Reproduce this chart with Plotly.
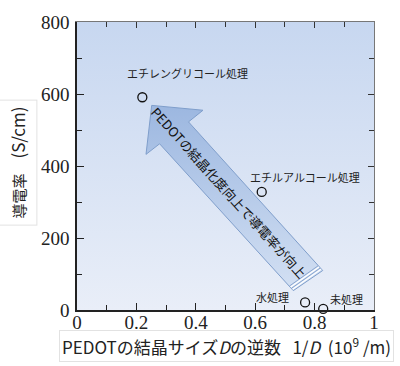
import plotly.graph_objects as go

# ---- data ----
treatments = ["エチレングリコール処理", "エチルアルコール処理", "水処理", "未処理"]
inv_size = [0.22, 0.622, 0.768, 0.829]          # 1/D (10^9 /m)
conductivity = [591, 328, 21, 3]                # S/cm
label_shift_x = [45, 43, -33, 23]
label_shift_y = [24, 15, 5, 10]
x_ticks = [0, 0.2, 0.4, 0.6, 0.8, 1]
y_ticks = [0, 200, 400, 600, 800]

W, H = 400, 366
ML, MR, MT, MB = 77, 26, 13, 56
PW, PH = W - ML - MR, H - MT - MB
XR, YR = [0, 1], [0, 800]


def px2d(px, py):
    x = XR[0] + (px - ML) / PW * (XR[1] - XR[0])
    y = YR[0] + (MT + PH - py) / PH * (YR[1] - YR[0])
    return x, y


# decorative arrow, defined in pixel space of the picture
arrow_px = [(151.7, 99), (203, 104), (188.5, 116), (322.7, 269.3),
            (293.3, 290), (159.6, 138.6), (146, 149.5), (151.7, 99)]
ax_pts = [px2d(*p) for p in arrow_px]

fig = go.Figure()

# plot background gradient
fig.add_trace(go.Scatter(
    x=[XR[0], XR[1], XR[1], XR[0], XR[0]], y=[YR[0], YR[0], YR[1], YR[1], YR[0]],
    mode="lines", line=dict(width=0), fill="toself",
    fillgradient=dict(type="vertical", colorscale=[[0, "#e9eef8"], [1, "#c7d7f0"]]),
    hoverinfo="skip", showlegend=False))

# arrow body
fig.add_trace(go.Scatter(
    x=[p[0] for p in ax_pts], y=[p[1] for p in ax_pts],
    mode="lines", line=dict(width=1, color="#7f9ecb"), fill="toself",
    fillgradient=dict(type="vertical", colorscale=[[0, "#d3e0f3"], [1, "#9cb7e0"]]),
    hoverinfo="skip", showlegend=False))

# stripes at the tail
tr, tl = arrow_px[3], arrow_px[4]
dvec = (-0.658, -0.753)
for k, col, wd in [(1.8, "white", 1.4), (3.3, "#8aa6d0", 1), (4.9, "white", 1.4), (6.4, "#8aa6d0", 1)]:
    p1 = px2d(tr[0] + dvec[0] * k - 0.5, tr[1] + dvec[1] * k)
    p2 = px2d(tl[0] + dvec[0] * k + 0.5, tl[1] + dvec[1] * k)
    fig.add_shape(type="line", x0=p1[0], y0=p1[1], x1=p2[0], y1=p2[1],
                  line=dict(color=col, width=wd), layer="above")

# data points
fig.add_trace(go.Scatter(
    x=inv_size, y=conductivity, mode="markers", cliponaxis=False,
    marker=dict(symbol="circle-open", size=9, color="#111", line=dict(width=1.3)),
    showlegend=False))

# invisible trace for top/right axes
fig.add_trace(go.Scatter(x=XR, y=YR, xaxis="x2", yaxis="y2", mode="markers",
                         marker=dict(opacity=0), hoverinfo="skip", showlegend=False))

for name, x, y, sx, sy in zip(treatments, inv_size, conductivity, label_shift_x, label_shift_y):
    fig.add_annotation(x=x, y=y, text=name, showarrow=False, xshift=sx, yshift=sy,
                       font=dict(family="Noto Sans CJK JP", size=11, color="#222"))

cx, cy = px2d(229, 189)
fig.add_annotation(x=cx, y=cy, text="PEDOTの結晶化度向上で導電率が向上", showarrow=False,
                   textangle=48, font=dict(family="Noto Sans CJK JP", size=13, color="#111"))

# axis titles (boxed)
fig.add_annotation(xref="paper", yref="paper", x=(18 - ML) / PW, y=(MT + PH - 158) / PH,
                   xanchor="center", yanchor="middle",
                   text="導電率\u3000<span style='font-size:17px'>(S/cm)</span>",
                   textangle=-90, showarrow=False, bgcolor="white", bordercolor="#e2e2e2",
                   borderwidth=1, borderpad=6,
                   font=dict(family="Noto Sans CJK JP", size=15, color="#222"))
fig.add_annotation(xref="paper", yref="paper", x=(226 - ML) / PW, y=(MT + PH - 347) / PH,
                   xanchor="center", yanchor="middle",
                   text="PEDOTの結晶サイズ<i>D</i>の逆数\u00a0\u00a0 1/<i>D</i>\u00a0\u00a0(10<sup>9</sup> /m)",
                   showarrow=False, bgcolor="white", bordercolor="#e2e2e2",
                   borderwidth=1, borderpad=2,
                   font=dict(family="Noto Sans CJK JP", size=17, color="#222"))

tickfont = dict(family="Liberation Serif", size=19, color="#222")
fig.update_layout(
    width=W, height=H, margin=dict(l=ML, r=MR, t=MT, b=MB),
    paper_bgcolor="white", plot_bgcolor="white", showlegend=False,
    xaxis=dict(range=XR, tickvals=x_ticks, ticktext=[f"{v:g}" for v in x_ticks],
               ticks="inside", ticklen=7, tickwidth=1.2, tickcolor="#222",
               minor=dict(dtick=0.1, ticks="inside", ticklen=5, tickwidth=1.2, tickcolor="#222"),
               showline=True, linecolor="#222", linewidth=1.5, showgrid=False,
               zeroline=False, tickfont=tickfont, ticklabelstandoff=-6),
    yaxis=dict(range=YR, tickvals=y_ticks, ticks="inside", ticklen=7, tickwidth=1.2,
               tickcolor="#222",
               minor=dict(dtick=100, ticks="inside", ticklen=5, tickwidth=1.2, tickcolor="#222"),
               showline=True, linecolor="#222", linewidth=1.5, showgrid=False,
               zeroline=False, tickfont=tickfont, ticklabelstandoff=2),
    xaxis2=dict(range=XR, overlaying="x", side="top", anchor="y2", showticklabels=False,
                tickvals=x_ticks, ticks="inside", ticklen=6, tickwidth=1.2, tickcolor="#333",
                minor=dict(dtick=0.1, ticks="inside", ticklen=5, tickwidth=1.2, tickcolor="#333"),
                showline=True, linecolor="#777", linewidth=1, showgrid=False, zeroline=False),
    yaxis2=dict(range=YR, overlaying="y", side="right", anchor="x2", showticklabels=False,
                tickvals=y_ticks, ticks="inside", ticklen=6, tickwidth=1.2, tickcolor="#333",
                minor=dict(dtick=100, ticks="inside", ticklen=5, tickwidth=1.2, tickcolor="#333"),
                showline=True, linecolor="#777", linewidth=1, showgrid=False, zeroline=False),
)

fig.write_html("out.html", config={"displayModeBar": False},
               post_script="document.body.style.margin='0';")
